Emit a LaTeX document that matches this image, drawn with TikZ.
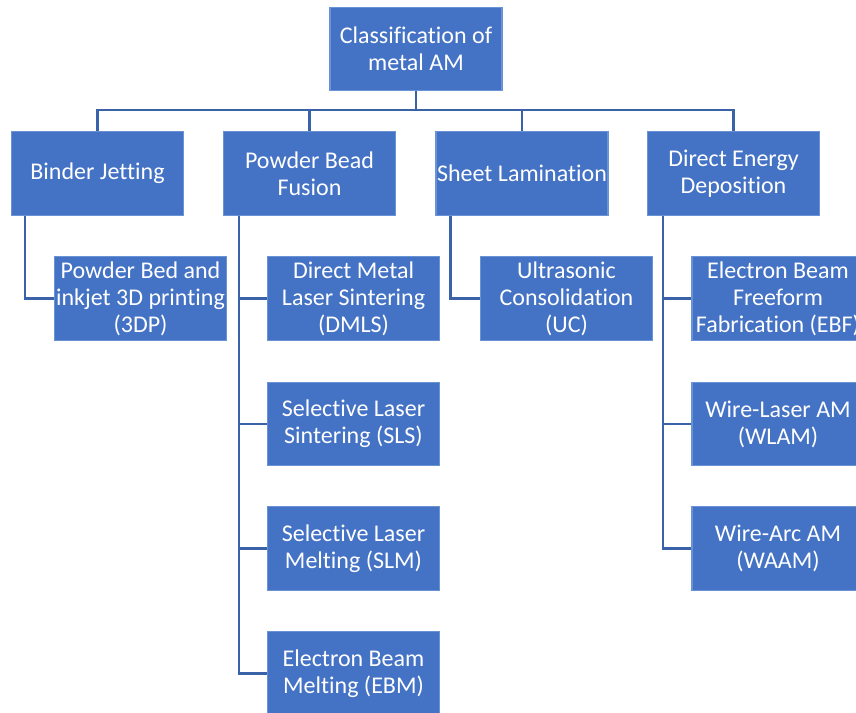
\documentclass[tikz,border=0pt]{standalone}
\usepackage{fontspec}
\setmainfont{Carlito}[Ligatures=NoCommon]
\usepackage{tikz}
\usetikzlibrary{positioning, calc}
\definecolor{boxblue}{HTML}{4472C4}
\definecolor{boxedge}{HTML}{6A93D6}
\definecolor{linkblue}{HTML}{3A62A8}
\tikzset{
    amnode/.style={draw=boxedge, line width=0.8pt, fill=boxblue, text=white,
        minimum width=129pt, minimum height=62.5pt, inner sep=0pt, align=center,
        font=\fontsize{18}{20.3}\selectfont},
    link/.style={draw=linkblue, line width=1.8pt}
}

\begin{document}
\begin{tikzpicture}[x=0.75pt, y=-0.75pt]
    \useasboundingbox (0,0) rectangle (856,713);
    \clip (0,0) rectangle (856,713);

    % Root
    \node[amnode] (root) at (416, 49) {Classification of\\metal AM};
    \coordinate (bus) at (416, 110);

    % Process families
    \node[amnode] (bj)  at (97.5, 173.5)  {Binder Jetting};
    \node[amnode] (pbf) at (309.5, 173.5) {Powder Bead\\Fusion};
    \node[amnode] (sl)  at (522, 173.5)   {Sheet Lamination};
    \node[amnode] (ded) at (733.5, 173.5) {Direct Energy\\Deposition};

    % Processes
    \node[amnode] (tdp)  at (140.5, 298.5) {Powder Bed and\\inkjet 3D printing\\(3DP)};
    \node[amnode] (dmls) at (353.5, 298.5) {Direct Metal\\Laser Sintering\\(DMLS)};
    \node[amnode] (sls)  at (353.5, 424)   {Selective Laser\\Sintering (SLS)};
    \node[amnode] (slm)  at (353.5, 548.5) {Selective Laser\\Melting (SLM)};
    \node[amnode] (ebm)  at (353.5, 673.5) {Electron Beam\\Melting (EBM)};
    \node[amnode] (uc)   at (566.5, 298.5) {Ultrasonic\\Consolidation\\(UC)};
    \node[amnode] (ebf)  at (778, 298.5)   {Electron Beam\\Freeform\\Fabrication (EBF)};
    \node[amnode] (wlam) at (778, 424)     {Wire-Laser AM\\(WLAM)};
    \node[amnode] (waam) at (778, 548.5)   {Wire-Arc AM\\(WAAM)};

    % Root to families
    \foreach \fam in {bj, pbf, sl, ded} {
        \draw[link] (root.south) -- (root.south |- bus) -| (\fam.north);
    }

    % Families to processes
    \draw[link] ([xshift=10.5pt]bj.south west) |- (tdp.west);
    \foreach \proc in {dmls, sls, slm, ebm} {
        \draw[link] ([xshift=12pt]pbf.south west) |- (\proc.west);
    }
    \draw[link] ([xshift=11.25pt]sl.south west) |- (uc.west);
    \foreach \proc in {ebf, wlam, waam} {
        \draw[link] ([xshift=12pt]ded.south west) |- (\proc.west);
    }
\end{tikzpicture}
\end{document}
